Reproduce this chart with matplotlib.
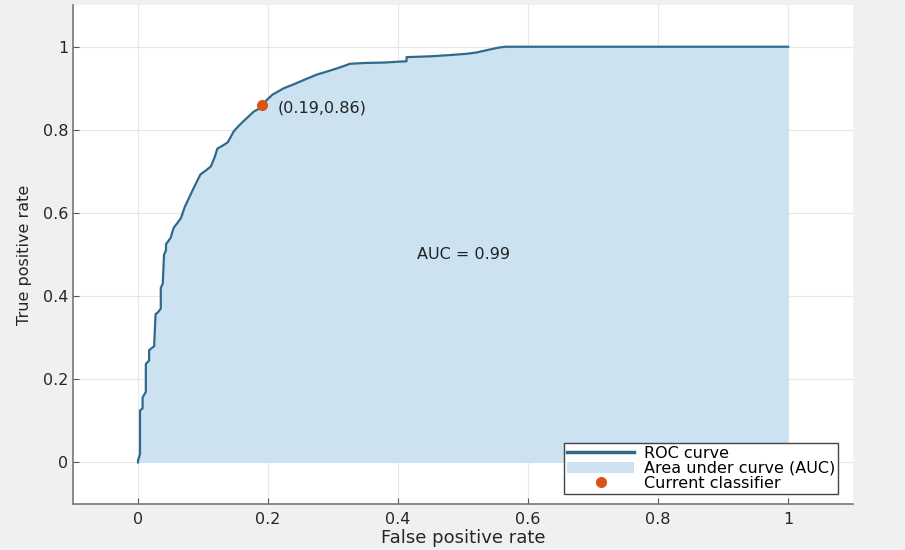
import numpy as np
import matplotlib.pyplot as plt

plt.rcParams['font.family'] = ['DejaVu Sans']

# ROC points
fpr = [0.0, 0.0, 0.003, 0.003, 0.007, 0.007, 0.012, 0.012, 0.017, 0.017,
       0.025, 0.025, 0.027, 0.030, 0.035, 0.035, 0.038, 0.040, 0.043, 0.043,
       0.050, 0.055, 0.060, 0.066, 0.072, 0.081, 0.088, 0.096, 0.104, 0.112,
       0.118, 0.122, 0.130, 0.138, 0.147, 0.155, 0.165, 0.178, 0.185, 0.190,
       0.198, 0.207, 0.215, 0.224, 0.240, 0.255, 0.275, 0.290, 0.310, 0.326,
       0.350, 0.380, 0.400, 0.413, 0.413, 0.450, 0.480, 0.505, 0.520, 0.540,
       0.555, 0.565, 0.700, 0.850, 1.0]
tpr = [0.0, 0.005, 0.020, 0.125, 0.130, 0.156, 0.170, 0.237, 0.245, 0.270,
       0.280, 0.290, 0.357, 0.360, 0.370, 0.420, 0.430, 0.500, 0.510, 0.525,
       0.540, 0.565, 0.575, 0.588, 0.615, 0.645, 0.668, 0.693, 0.702, 0.712,
       0.735, 0.755, 0.762, 0.770, 0.796, 0.810, 0.825, 0.844, 0.850, 0.856,
       0.872, 0.885, 0.892, 0.900, 0.910, 0.920, 0.933, 0.940, 0.950, 0.959,
       0.961, 0.962, 0.964, 0.965, 0.975, 0.977, 0.980, 0.983, 0.986, 0.993,
       0.998, 1.0, 1.0, 1.0, 1.0]

op_x = 0.19
op_y = 0.86
auc = 0.99

xticks = [0, 0.2, 0.4, 0.6, 0.8, 1]
yticks = [0, 0.2, 0.4, 0.6, 0.8, 1]

fig = plt.figure(figsize=(9.05, 5.5), dpi=100, facecolor='#f0f0f0')
ax = fig.add_axes([0.0807, 0.0836, 0.862, 0.907])
ax.set_facecolor('white')

ax.fill_between(fpr, tpr, 0, color='#cce2f1', lw=0,
                label='Area under curve (AUC)', zorder=2)
ax.plot(fpr, tpr, color='#2f6a8c', lw=1.6, label='ROC curve', zorder=3)
ax.plot(op_x, op_y, 'o', color='#d95319', ms=7, label='Current classifier', zorder=4)

ax.text(op_x + 0.025, op_y - 0.007, '(%.2f,%.2f)' % (op_x, op_y), fontsize=11.5,
        va='center', ha='left', color='#222222')
ax.text(0.5, 0.5, 'AUC = %.2f' % auc, fontsize=11.5, ha='center', va='center', color='#222222')

ax.set_xlim(-0.1, 1.1)
ax.set_ylim(-0.1, 1.1)
ax.set_xticks(xticks)
ax.set_yticks(yticks)
ax.set_xticklabels(['0', '0.2', '0.4', '0.6', '0.8', '1'])
ax.set_yticklabels(['0', '0.2', '0.4', '0.6', '0.8', '1'])
ax.tick_params(direction='in', length=4, colors='#555555', labelcolor='#262626', labelsize=11.5)
ax.tick_params(axis='x', pad=6)
ax.grid(True, color='#e6e6e6', lw=0.8, zorder=0)
ax.set_axisbelow(True)
for s in ['top', 'right']:
    ax.spines[s].set_visible(False)
for s in ['left', 'bottom']:
    ax.spines[s].set_color('#777777')
    ax.spines[s].set_linewidth(1.2)

ax.set_xlabel('False positive rate', fontsize=13, color='#262626', labelpad=1)
ax.set_ylabel('True positive rate', fontsize=11.5, color='#262626', labelpad=8)

h, l = ax.get_legend_handles_labels()
order = [1, 0, 2]
leg = ax.legend([h[i] for i in order], [l[i] for i in order], loc='lower right',
                bbox_to_anchor=(0.981, 0.02), borderaxespad=0, fancybox=False,
                framealpha=1, edgecolor='#444444', fontsize=11.5, handlelength=4.2,
                labelspacing=0.0, borderpad=0.2, handletextpad=0.6)
leg.get_frame().set_linewidth(1.0)
leg.get_lines()[0].set_linewidth(2.5)

plt.savefig('out.png', dpi=100, facecolor=fig.get_facecolor())
